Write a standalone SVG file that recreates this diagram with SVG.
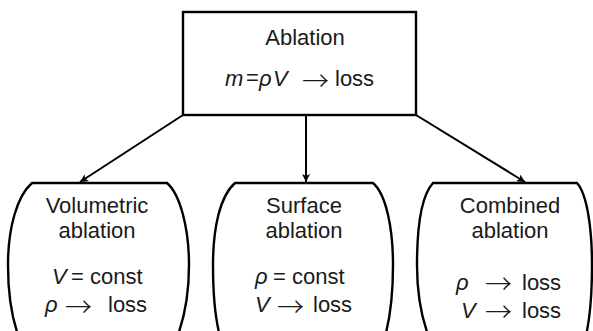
<svg xmlns="http://www.w3.org/2000/svg" width="593" height="331" viewBox="0 0 593 331">
<defs>
<style>
.box{fill:#fff;stroke:#000;stroke-width:2.4}
.t{font-family:"Liberation Sans",Arial,sans-serif;font-size:22px;fill:#1a1a1a}
.c{text-anchor:middle}
.v{font-style:italic}
.a{font-family:"Noto Sans CJK SC","Noto Sans CJK JP",sans-serif;font-size:27px;font-weight:300}
.edge{stroke:#000;stroke-width:2;fill:none;marker-end:url(#ah)}
</style>
<marker id="ah" viewBox="0 0 10 10" refX="10" refY="5" markerWidth="8" markerHeight="8" markerUnits="userSpaceOnUse" orient="auto">
<path d="M0,0 L10,5 L0,10 L2.5,5 Z" fill="#000"/>
</marker>
</defs>
<rect width="593" height="331" fill="#fff"/>
<g id="connectors">
<line class="edge" x1="183" y1="115" x2="80" y2="182"/>
<line class="edge" x1="306" y1="115" x2="306" y2="182"/>
<line class="edge" x1="416" y1="115" x2="525" y2="182"/>
</g>
<g id="ablation">
<rect class="box" x="183" y="12" width="233" height="103"/>
<text class="t c" x="305" y="45">Ablation</text>
<text class="t v" x="225" y="86">m</text>
<text class="t" x="246" y="85" font-size="18">=</text>
<text class="t v" x="259" y="86">ρ</text>
<text class="t v" x="273" y="86">V</text>
<text class="t a" x="302" y="91">→</text>
<text class="t" x="335" y="86">loss</text>
</g>
<g id="volumetric">
<path class="box" d="M32,183 H167 C180,194 189,228 189,265 C189,295 184,320 176,340 H20 C12,320 8,295 8,265 C8,228 17,196 32,183 Z"/>
<text class="t c" x="97" y="213">Volumetric</text>
<text class="t c" x="97" y="238">ablation</text>
<text class="t v" x="52" y="284">V</text>
<text class="t" x="71" y="284">= const</text>
<text class="t v" x="45" y="312">ρ</text>
<text class="t a" x="65" y="317">→</text>
<text class="t" x="108" y="312">loss</text>
</g>
<g id="surface">
<path class="box" d="M235,183 H373 C386,194 393,228 393,265 C393,295 390,320 384,340 H221 C215,320 213,295 213,265 C213,228 220,196 235,183 Z"/>
<text class="t c" x="304" y="213">Surface</text>
<text class="t c" x="304" y="238">ablation</text>
<text class="t v" x="255" y="284">ρ</text>
<text class="t" x="273" y="284">= const</text>
<text class="t v" x="255" y="312">V</text>
<text class="t a" x="277" y="317">→</text>
<text class="t" x="313" y="312">loss</text>
</g>
<g id="combined">
<path class="box" d="M433,183 H577 C587,194 592,228 592,265 C592,295 590,320 585,340 H430 C422,320 417,295 417,265 C417,228 421,196 433,183 Z"/>
<text class="t c" x="510" y="213">Combined</text>
<text class="t c" x="510" y="238">ablation</text>
<text class="t v" x="456" y="290">ρ</text>
<text class="t a" x="485" y="294" font-size="24">→</text>
<text class="t" x="522" y="290">loss</text>
<text class="t v" x="461" y="318">V</text>
<text class="t a" x="485" y="322" font-size="24">→</text>
<text class="t" x="522" y="318">loss</text>
</g>
</svg>
